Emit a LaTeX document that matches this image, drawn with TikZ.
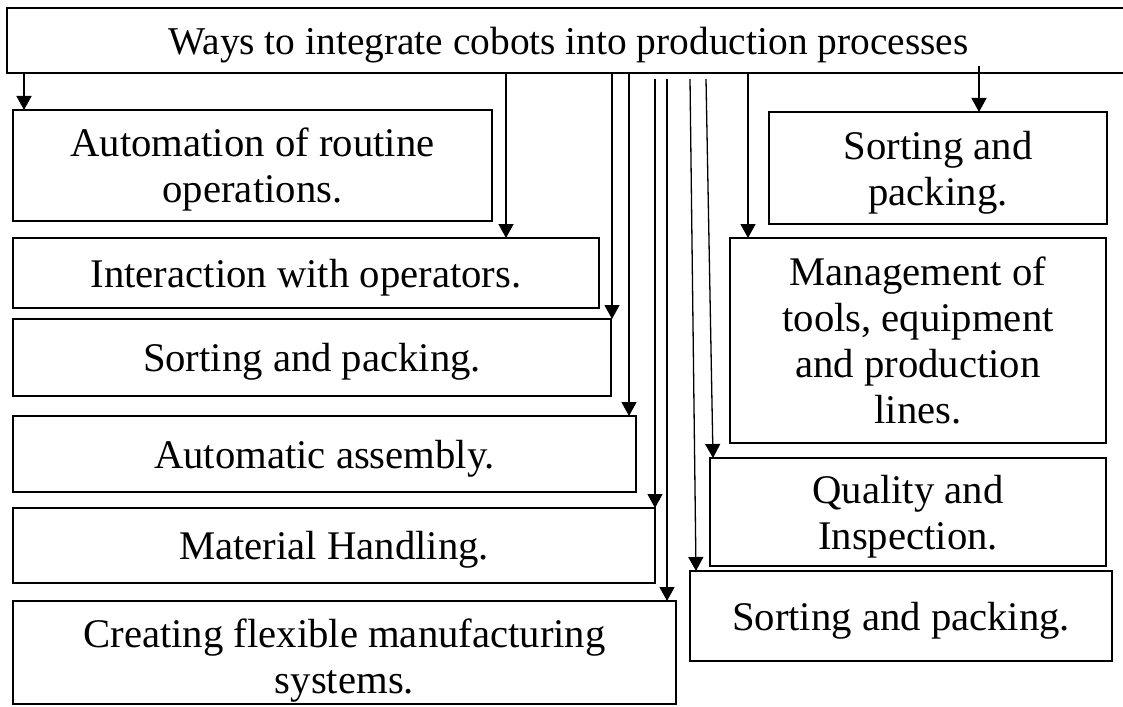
\documentclass[tikz,border=0pt]{standalone}
\usepackage{fontspec}
\setmainfont{Liberation Serif}
\usetikzlibrary{arrows.meta}
\begin{document}
\begin{tikzpicture}[x=1pt,y=-1pt,
  box/.style={draw, line width=2.8pt, inner sep=0pt, outer sep=0pt, align=center, anchor=north west,
    text depth=0pt, font=\fontsize{40.7}{46}\selectfont},
  txt/.style={align=center, inner sep=0pt, text depth=0pt, font=\fontsize{40.7}{46}\selectfont},
  arr/.style={line width=1.3pt, -{Triangle[width=15pt,length=14pt]}}]
\useasboundingbox (0,0) rectangle (1123,706);
\node[box, minimum width=1123pt, minimum height=65pt, font=\fontsize{39.4}{46}\selectfont] (t) at (7,8) {Ways to integrate cobots into production processes};
\node[box, minimum width=479pt, minimum height=111pt] (b1) at (13,110) {Automation of routine\\operations.};
\node[box, minimum width=586pt, minimum height=70pt] (b2) at (13,238) {Interaction with operators.};
\node[box, minimum width=598pt, minimum height=77pt] (b3) at (13,319) {Sorting and packing.};
\node[box, minimum width=623pt, minimum height=76pt] (b4) at (13,416) {Automatic assembly.};
\node[box, minimum width=642pt, minimum height=75pt] (b5) at (13,508) {Material Handling.};
\node[box, minimum width=663pt, minimum height=103pt] (b6) at (13,601) {};
\node[txt] (b6t) at ([yshift=-4pt]b6.center) {Creating flexible manufacturing\\systems.};
\node[box, minimum width=338pt, minimum height=112pt] (r1) at (769,112) {Sorting and\\packing.};
\node[box, minimum width=376pt, minimum height=205pt] (r2) at (730,238) {Management of\\tools, equipment\\and production\\lines.};
\node[box, minimum width=396pt, minimum height=108pt] (r3) at (710,458) {Quality and\\Inspection.};
\node[box, minimum width=422pt, minimum height=90pt] (r4) at (690,571) {Sorting and packing.};
\draw[arr] (24,0 |- t.south) -- (24,0 |- b1.north);
\draw[arr] (506,0 |- t.south) -- (506,0 |- b2.north);
\draw[arr] (612,0 |- t.south) -- (612,0 |- b3.north);
\draw[arr] (629,0 |- t.south) -- (629,0 |- b4.north);
\draw[arr] ([yshift=-6pt]655,0 |- t.south) -- (655,0 |- b5.north);
\draw[arr] ([yshift=-6pt]667,0 |- t.south) -- (667,0 |- b6.north);
\draw[arr] ([yshift=-6pt]690,0 |- t.south) -- (696,0 |- r4.north);
\draw[arr] ([yshift=-6pt]706,0 |- t.south) -- (713,0 |- r3.north);
\draw[arr] (748,0 |- t.south) -- (748,0 |- r2.north);
\draw[arr] ([yshift=7pt]979,0 |- t.south) -- (979,0 |- r1.north);
\end{tikzpicture}
\end{document}
